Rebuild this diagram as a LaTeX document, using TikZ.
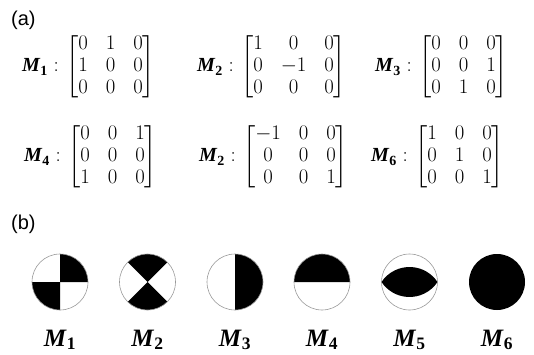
\documentclass[tikz,border=0pt]{standalone}
\usepackage{amsmath}
\usepackage{fontspec}
\setmainfont{Liberation Serif}
\setsansfont{Liberation Sans}
\usepackage{tikz}
\usetikzlibrary{positioning}
\setlength{\arraycolsep}{9pt}

\begin{document}
\begin{tikzpicture}[
  x=1pt, y=1pt,
  node distance=7pt,
  panel/.style={anchor=north west, inner sep=0pt, font=\sffamily\fontsize{20}{22}\selectfont},
  mtx/.style={anchor=west, inner sep=0pt, font=\fontsize{20}{22}\selectfont},
  mlabel/.style={inner sep=0pt, font=\fontsize{20}{22}\selectfont},
  ball/.style={draw=gray!80, line width=0.6pt},
  ballname/.style={anchor=base, inner sep=0pt, font=\fontsize{25}{30}\selectfont}
]
\useasboundingbox (0,0) rectangle (534,-355);

% (a) matrices
\node[panel] (pa) at (11,-11) {(a)};

\node[mtx] (mat1) at (66,-67) {$\begin{bmatrix}0&1&0\\1&0&0\\0&0&0\end{bmatrix}$};
\node[mtx] (mat2) at (241,-67) {$\begin{bmatrix}1&0&0\\0&-1&0\\0&0&0\end{bmatrix}$};
\node[mtx] (mat3) at (419,-67) {$\begin{bmatrix}0&0&0\\0&0&1\\0&1&0\end{bmatrix}$};
\node[mtx] (mat4) at (68,-157) {$\begin{bmatrix}0&0&1\\0&0&0\\1&0&0\end{bmatrix}$};
\node[mtx] (mat5) at (243,-157) {$\begin{bmatrix}-1&0&0\\0&0&0\\0&0&1\end{bmatrix}$};
\node[mtx] (mat6) at (415,-157) {$\begin{bmatrix}1&0&0\\0&1&0\\0&0&1\end{bmatrix}$};

\node[mlabel, left=of mat1] (lab1) {$\textbf{\textit{M}}_{\textbf{1}}:$};
\node[mlabel, left=of mat2] (lab2) {$\textbf{\textit{M}}_{\textbf{2}}:$};
\node[mlabel, left=of mat3] (lab3) {$\textbf{\textit{M}}_{\textbf{3}}:$};
\node[mlabel, left=of mat4] (lab4) {$\textbf{\textit{M}}_{\textbf{4}}:$};
\node[mlabel, left=of mat5] (lab5) {$\textbf{\textit{M}}_{\textbf{2}}:$};
\node[mlabel, left=of mat6] (lab6) {$\textbf{\textit{M}}_{\textbf{6}}:$};

% (b) beach balls
\node[panel] (pb) at (11,-215) {(b)};

\coordinate (b1) at (60,-282);
\coordinate (b2) at (147.5,-282);
\coordinate (b3) at (235,-282);
\coordinate (b4) at (322,-282);
\coordinate (b5) at (409.5,-282);
\coordinate (b6) at (497,-282);

\fill (b1) -- ++(0:28) arc[start angle=0, end angle=90, radius=28] -- cycle;
\fill (b1) -- ++(180:28) arc[start angle=180, end angle=270, radius=28] -- cycle;
\draw[ball] (b1) circle[radius=28];

\fill (b2) -- ++(45:28) arc[start angle=45, end angle=135, radius=28] -- cycle;
\fill (b2) -- ++(225:28) arc[start angle=225, end angle=315, radius=28] -- cycle;
\draw[ball] (b2) circle[radius=28];

\fill (b3) -- ++(-90:28) arc[start angle=-90, end angle=90, radius=28] -- cycle;
\draw[ball] (b3) circle[radius=28];

\fill (b4) -- ++(0:28) arc[start angle=0, end angle=180, radius=28] -- cycle;
\draw[ball] (b4) circle[radius=28];

\fill (b5) ++(-28,0) arc[start angle=146.4, end angle=33.6, radius=33.6]
  arc[start angle=-33.6, end angle=-146.4, radius=33.6] -- cycle;
\draw[ball] (b5) circle[radius=28];

\fill (b6) circle[radius=28];

\node[ballname] (n1) at ([yshift=-64]b1) {$\textbf{\textit{M}}_{\textbf{1}}$};
\node[ballname] (n2) at ([yshift=-64]b2) {$\textbf{\textit{M}}_{\textbf{2}}$};
\node[ballname] (n3) at ([yshift=-64]b3) {$\textbf{\textit{M}}_{\textbf{3}}$};
\node[ballname] (n4) at ([yshift=-64]b4) {$\textbf{\textit{M}}_{\textbf{4}}$};
\node[ballname] (n5) at ([yshift=-64]b5) {$\textbf{\textit{M}}_{\textbf{5}}$};
\node[ballname] (n6) at ([yshift=-64]b6) {$\textbf{\textit{M}}_{\textbf{6}}$};
\end{tikzpicture}
\end{document}
